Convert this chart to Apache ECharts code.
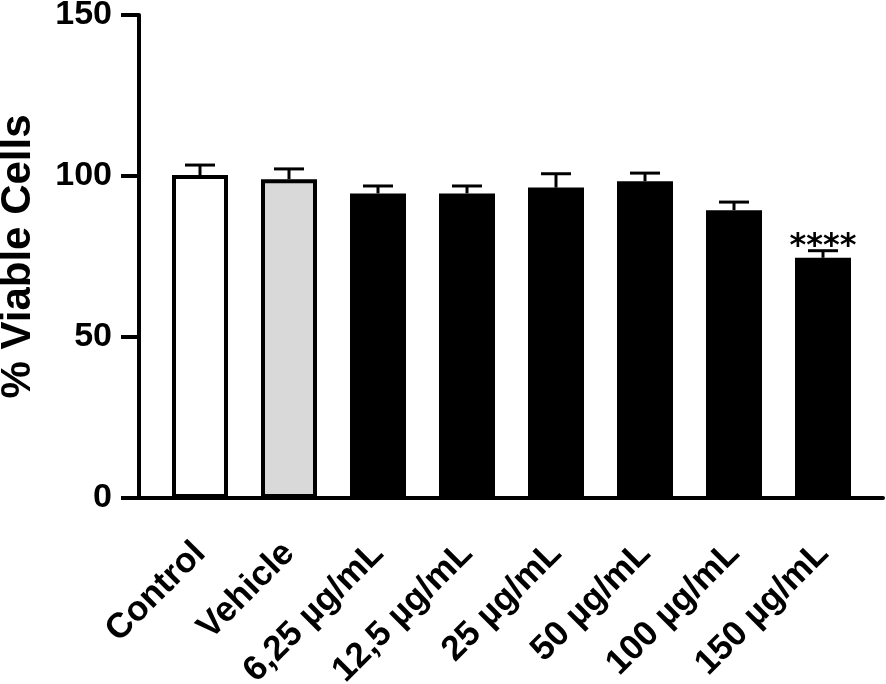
<!DOCTYPE html>
<html>
<head>
<meta charset="utf-8">
<title>% Viable Cells</title>
<script src="https://cdn.jsdelivr.net/npm/echarts@6/dist/echarts.min.js"></script>
<style>
    html, body { margin: 0; padding: 0; background: #fff; }
    #chart { width: 886px; height: 684px; }
</style>
</head>
<body>
<div id="chart"></div>
<script>
// Cell viability per treatment (mean + upper SD whisker)
var categories = ['Control', 'Vehicle', '6,25 µg/mL', '12,5 µg/mL', '25 µg/mL', '50 µg/mL', '100 µg/mL', '150 µg/mL'];
var meanValues = [100.3, 99.0, 94.6, 94.6, 96.4, 98.4, 89.4, 74.6];
var sdValues = [3.1, 3.2, 2.3, 2.3, 4.3, 2.5, 2.5, 2.2];
var sigMarks = ['', '', '', '', '', '', '', '****'];
var yTicks = [0, 50, 100, 150];

(function() {
    "use strict";
    var chart = echarts.init(document.getElementById('chart'));
    var font = '"Liberation Sans", Arial, sans-serif';
    var fills = ['#ffffff', '#d9d9d9', '#000000', '#000000', '#000000', '#000000', '#000000', '#000000'];

    var barData = meanValues.map(function(v, i) {
        return {
            value: v,
            itemStyle: {
                color: fills[i],
                borderColor: '#000',
                borderWidth: i < 2 ? 4 : 0
            }
        };
    });
    var errData = meanValues.map(function(v, i) {
        return [i, v, v + sdValues[i]];
    });

    var option = {
        animation: false,
        grid: [
            { left: 155.5, right: 18.5, top: 15, bottom: 186, outerBoundsMode: 'none' },
            { left: 139, right: 3, top: 15, bottom: 186, outerBoundsMode: 'none' }
        ],
        xAxis: [
            {
                type: 'category',
                gridIndex: 0,
                data: categories,
                axisLine: { show: false },
                axisTick: {
                    alignWithLabel: true,
                    length: 20,
                    lineStyle: { color: '#000', width: 4 }
                },
                axisLabel: {
                    rotate: 45,
                    interval: 0,
                    margin: 50,
                    color: '#000',
                    fontFamily: font,
                    fontWeight: 'bold',
                    fontSize: 35
                }
            },
            {
                type: 'value',
                gridIndex: 1,
                min: 0,
                max: 1,
                axisLine: { show: true, lineStyle: { color: '#000', width: 4 } },
                axisTick: { show: false },
                axisLabel: { show: false },
                splitLine: { show: false }
            }
        ],
        yAxis: [
            {
                type: 'value',
                gridIndex: 0,
                min: yTicks[0],
                max: yTicks[yTicks.length - 1],
                interval: yTicks[1] - yTicks[0],
                offset: 16.5,
                name: '% Viable Cells',
                nameLocation: 'middle',
                nameGap: 100,
                nameTextStyle: {
                    color: '#000',
                    fontFamily: font,
                    fontWeight: 'bold',
                    fontSize: 42
                },
                axisLine: { show: true, lineStyle: { color: '#000', width: 4 } },
                axisTick: { show: true, length: 18, lineStyle: { color: '#000', width: 4 } },
                axisLabel: {
                    margin: 27,
                    color: '#000',
                    fontFamily: font,
                    fontWeight: 'bold',
                    fontSize: 34
                },
                splitLine: { show: false }
            },
            {
                type: 'value',
                gridIndex: 1,
                show: false,
                min: 0,
                max: 1
            }
        ],
        series: [
            {
                name: 'Viability',
                type: 'bar',
                xAxisIndex: 0,
                yAxisIndex: 0,
                barWidth: 56,
                data: barData,
                z: 2
            },
            {
                name: 'SD',
                type: 'custom',
                xAxisIndex: 0,
                yAxisIndex: 0,
                encode: { x: 0, y: [1, 2] },
                data: errData,
                z: 3,
                renderItem: function(params, api) {
                    var idx = api.value(0);
                    var base = api.coord([idx, api.value(1)]);
                    var top = api.coord([idx, api.value(2)]);
                    var halfCap = 15;
                    var lineStyle = { stroke: '#000', lineWidth: 3 };
                    var children = [
                        { type: 'line', shape: { x1: base[0], y1: base[1], x2: top[0], y2: top[1] }, style: lineStyle },
                        { type: 'line', shape: { x1: top[0] - halfCap, y1: top[1], x2: top[0] + halfCap, y2: top[1] }, style: lineStyle }
                    ];
                    if (sigMarks[idx]) {
                        children.push({
                            type: 'text',
                            style: {
                                text: sigMarks[idx],
                                x: top[0],
                                y: top[1] - 4,
                                align: 'center',
                                verticalAlign: 'middle',
                                font: 'bold 32px "DejaVu Sans"',
                                fill: '#000'
                            }
                        });
                    }
                    return { type: 'group', children: children };
                }
            }
        ]
    };
    chart.setOption(option, true);
    window.addEventListener('resize', function() {
        chart.resize();
    });
})();
</script>
</body>
</html>
